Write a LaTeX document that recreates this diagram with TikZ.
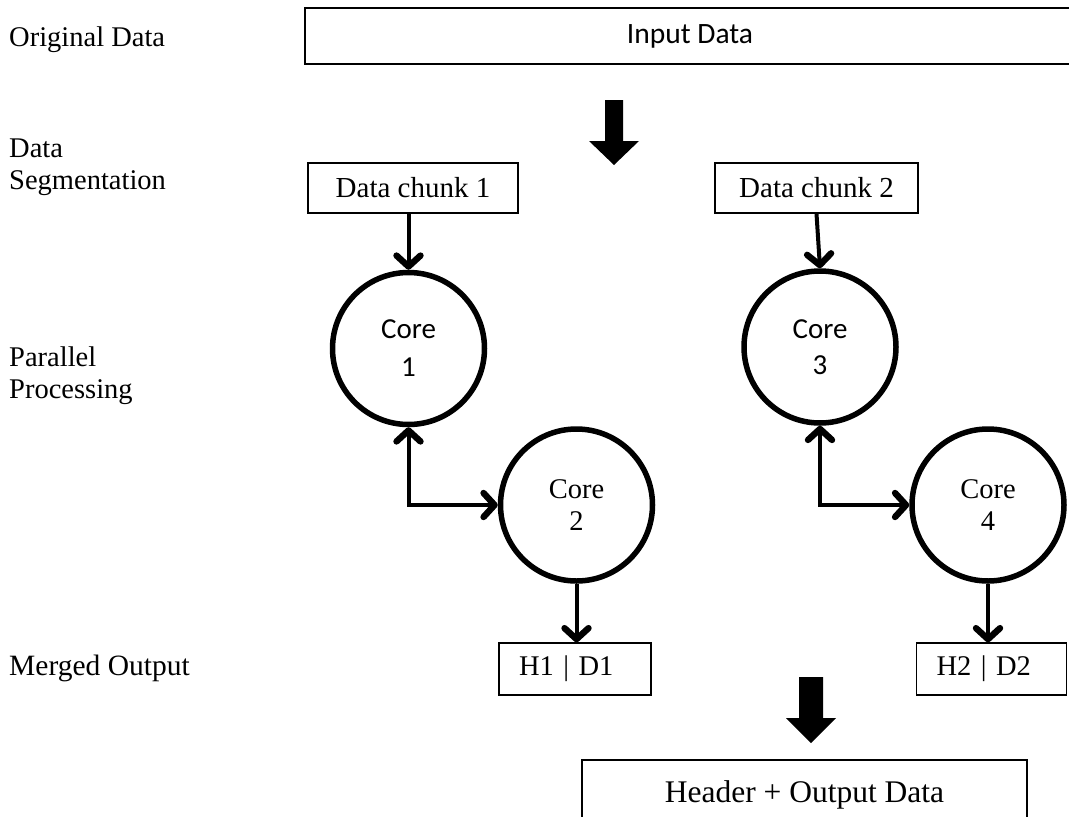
\documentclass[tikz,border=0pt]{standalone}
\usepackage{fontspec}
\setmainfont{Liberation Serif}
\newfontfamily\calfont{Carlito}
\usetikzlibrary{arrows.meta,positioning}
\begin{document}
\begin{tikzpicture}[x=1pt,y=-1pt,
  every node/.style={font=\fontsize{28.5}{32}\selectfont},
  lbl/.style={anchor=west,align=left,inner sep=0pt},
  bigbox/.style={draw,line width=1.6pt,minimum height=#1,inner sep=0pt},
  chunk/.style={draw,line width=1.3pt,minimum width=#1,minimum height=50pt,inner sep=0pt},
  outbox/.style={draw,line width=1.3pt,minimum height=52pt,align=left,inner ysep=0pt},
  core/.style={draw,circle,line width=5.5pt,minimum size=152pt,inner sep=0pt,align=center},
  barb/.tip={Straight Barb[length=11pt,width=24pt,line width=0pt 1.6,round]},
  conn/.style={line width=4pt,-barb},
  dconn/.style={line width=4pt,barb-barb},
  block/.style={fill=black,draw=none}]
\clip (0,0) rectangle (1069,817);
\fill[white] (0,0) rectangle (1069,817);

% left labels
\node[lbl] (lorig) at (9,40) {Original Data};
\node[lbl] (lseg) at (9,167) {Data\\Segmentation};
\node[lbl] (lpar) at (9,376) {Parallel\\Processing};
\node[lbl,font=\fontsize{29.5}{32}\selectfont] (lmerge) at (9,668) {Merged Output};

% input box
\node[bigbox=56pt,minimum width=770pt,font=\calfont\fontsize{29.5}{32}\selectfont] (input) at (690,36) {Input Data};

% big arrow 1
\coordinate (a1) at (614,100);
\fill[block] ([xshift=-9pt]a1) -- ([xshift=9pt]a1) -- ([xshift=9pt,yshift=-41pt]a1) -- ([xshift=25pt,yshift=-41pt]a1)
  -- ([yshift=-65pt]a1) -- ([xshift=-25pt,yshift=-41pt]a1) -- ([xshift=-9pt,yshift=-41pt]a1) -- cycle;

% data chunks
\node[chunk=210pt,font=\fontsize{29}{32}\selectfont] (dc1) at (413,188) {Data chunk 1};
\node[chunk=203pt,font=\fontsize{29}{32}\selectfont] (dc2) at (816.5,188) {Data chunk 2};

% cores
\node[core,font=\calfont\fontsize{29}{38}\selectfont] (core1) at (408.5,348.5) {Core\\1};
\node[core] (core2) at (576.5,505) {Core\\2};
\node[core,font=\calfont\fontsize{29}{36}\selectfont] (core3) at (820,347) {Core\\3};
\node[core] (core4) at (988,505) {Core\\4};

% outputs
\node[outbox,inner xsep=20pt,text width=112pt] (h1) at (575,669) {H1 | D1};
\node[outbox,inner xsep=20pt,text width=110pt] (h2) at (991.5,669) {H2 | D2};

% big arrow 2
\coordinate (a2) at (811,677);
\fill[block] ([xshift=-12pt]a2) -- ([xshift=12pt]a2) -- ([xshift=12pt,yshift=-41pt]a2) -- ([xshift=25pt,yshift=-41pt]a2)
  -- ([yshift=-66pt]a2) -- ([xshift=-25pt,yshift=-41pt]a2) -- ([xshift=-12pt,yshift=-41pt]a2) -- cycle;

% output box
\node[bigbox=70pt,minimum width=445pt,font=\fontsize{31.5}{34}\selectfont] (final) at (804.5,795) {Header + Output Data};

% connectors
\draw[conn] (core1.north |- dc1.south) -- (core1.north);
\draw[conn] (dc2.south) -- (core3.north);
\draw[dconn] (core1.south) |- (core2.west);
\draw[dconn] (core3.south) |- (core4.west);
\draw[conn] (core2.south) -- (core2.south |- h1.north);
\draw[conn] (core4.south) -- (core4.south |- h2.north);
\end{tikzpicture}
\end{document}
